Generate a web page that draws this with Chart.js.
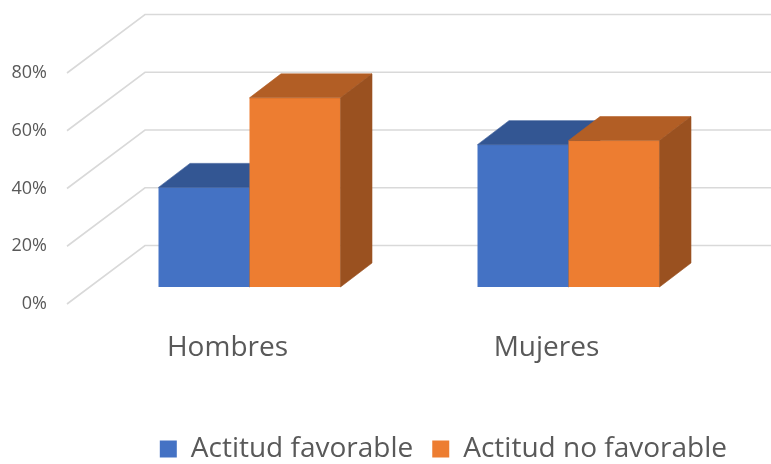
<!DOCTYPE html>
<html>
<head>
<meta charset="utf-8">
<script src="https://cdn.jsdelivr.net/npm/chart.js@4.4.1/dist/chart.umd.min.js"></script>
<style>
  html, body { margin: 0; padding: 0; background: #fff; }
  #wrap { width: 771px; height: 464px; }
</style>
</head>
<body>
<div id="wrap"><canvas id="actitudChart"></canvas></div>
<script>
// Data (percent)
var grupos = ['Hombres', 'Mujeres'];
var favorable = [34.5, 49.3];
var noFavorable = [65.5, 50.7];
var ejeMax = 80;
var ejePaso = 20;

var textColor = '#595959';
var gridColor = '#d9d9d9';
var azul = '#4472c4';
var naranja = '#ed7d31';

// Oblique projection: bar plane -> front edge of floor / back wall, and box depth
var frontShift = { x: -23, y: 17 };
var backShift = { x: 55, y: -41.5 };
var barDepth = { x: 31.5, y: -24 };

function shade(hex, f) {
    var n = parseInt(hex.slice(1), 16);
    var r = Math.round(((n >> 16) & 255) * f);
    var g = Math.round(((n >> 8) & 255) * f);
    var b = Math.round((n & 255) * f);
    return 'rgb(' + r + ',' + g + ',' + b + ')';
}

function poly(ctx, pts, color) {
    ctx.fillStyle = color;
    ctx.strokeStyle = color;
    ctx.lineWidth = 0.6;
    ctx.beginPath();
    ctx.moveTo(pts[0][0], pts[0][1]);
    for (var i = 1; i < pts.length; i++) ctx.lineTo(pts[i][0], pts[i][1]);
    ctx.closePath();
    ctx.fill();
    ctx.stroke();
}

// Draws the side wall / back wall gridlines and then the boxes in painter's order
var cube3d = {
    id: 'cube3d',
    beforeDatasetsDraw: function (chart) {
        var ctx = chart.ctx;
        var area = chart.chartArea;
        var yScale = chart.scales.y;

        ctx.save();
        ctx.strokeStyle = gridColor;
        ctx.lineWidth = 1.6;
        yScale.ticks.forEach(function (t) {
            var y = yScale.getPixelForValue(t.value);
            ctx.beginPath();
            ctx.moveTo(area.left + frontShift.x, y + frontShift.y);
            ctx.lineTo(area.left + backShift.x, y + backShift.y);
            ctx.lineTo(chart.width, y + backShift.y);
            ctx.stroke();
        });

        var metas = [chart.getDatasetMeta(0), chart.getDatasetMeta(1)];
        grupos.forEach(function (g, i) {
            metas.forEach(function (meta) {
                var bar = meta.data[i];
                var color = chart.data.datasets[meta.index].backgroundColor;
                bar.draw(ctx, area);
                var p = bar.getProps(['x', 'y', 'base', 'width'], true);
                var l = p.x - p.width / 2, r = p.x + p.width / 2;
                var dx = barDepth.x, dy = barDepth.y;
                // top face
                poly(ctx, [[l, p.y], [l + dx, p.y + dy], [r + dx, p.y + dy], [r, p.y]], shade(color, 0.75));
                // right side face
                poly(ctx, [[r, p.y], [r + dx, p.y + dy], [r + dx, p.base + dy], [r, p.base]], shade(color, 0.65));
            });
        });
        ctx.restore();
        return false;
    }
};

var ctx = document.getElementById('actitudChart').getContext('2d');
var actitudChart = new Chart(ctx, {
    type: 'bar',
    data: {
        labels: grupos,
        datasets: [{
            label: 'Actitud favorable',
            data: favorable,
            backgroundColor: azul,
            borderWidth: 0
        }, {
            label: 'Actitud no favorable',
            data: noFavorable,
            backgroundColor: naranja,
            borderWidth: 0
        }]
    },
    options: {
        responsive: true,
        maintainAspectRatio: false,
        animation: false,
        categoryPercentage: 0.5705,
        barPercentage: 1,
        layout: { padding: { top: 56, right: 25, bottom: 0, left: 0 } },
        scales: {
            x: {
                afterFit: function (s) { s.height = 129; },
                grid: { display: false },
                border: { display: false },
                ticks: {
                    padding: 36,
                    labelOffset: -22,
                    color: textColor,
                    font: { family: 'Open Sans', size: 28 }
                }
            },
            y: {
                min: 0,
                max: ejeMax,
                afterFit: function (s) { s.width = 90; },
                grid: { display: false },
                border: { display: false },
                ticks: {
                    stepSize: ejePaso,
                    padding: 35,
                    labelOffset: 17,
                    color: textColor,
                    font: { family: 'Open Sans', size: 18 },
                    callback: function (value) { return value + '%'; }
                }
            },
            yDerecho: {
                type: 'linear',
                position: 'right',
                grid: { display: false },
                border: { display: false },
                ticks: { display: false },
                afterFit: function (s) { s.width = 18; }
            }
        },
        plugins: {
            tooltip: { enabled: false },
            legend: {
                position: 'bottom',
                align: 'end',
                maxHeight: 48,
                labels: {
                    boxWidth: 17,
                    boxHeight: 17,
                    padding: 19,
                    color: textColor,
                    font: { family: 'Open Sans', size: 28 }
                }
            }
        }
    },
    plugins: [cube3d]
});
</script>
</body>
</html>
